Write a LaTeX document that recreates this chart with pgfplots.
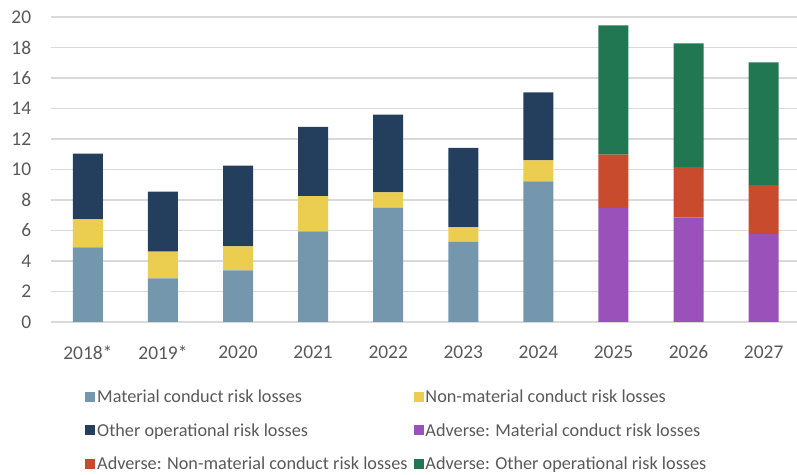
\documentclass[border=0pt]{standalone}
\usepackage{pgfplots}
\pgfplotsset{compat=1.18}
\usepackage{fontspec}
\setmainfont{Carlito}
\definecolor{cMat}{HTML}{7597AE}
\definecolor{cNon}{HTML}{EBCD50}
\definecolor{cOth}{HTML}{243F5E}
\definecolor{aMat}{HTML}{9B51BA}
\definecolor{aNon}{HTML}{C84B2E}
\definecolor{aOth}{HTML}{217752}
\definecolor{gridgray}{HTML}{D9D9D9}
\definecolor{labelgray}{HTML}{595959}
\begin{document}
\begin{tikzpicture}[x=1bp,y=1bp]
\useasboundingbox (-50.7,-153) rectangle (746.3,322);
\begin{axis}[
  at={(0,0)}, anchor=south west,
  scale only axis, width=746bp, height=305bp,
  xmin=-0.495, xmax=9.44, ymin=0, ymax=20,
  ytick={0,2,...,20},
  xtick={0,...,9},
  xticklabels={2018*,2019*,2020,2021,2022,2023,2024,2025,2026,2027},
  ymajorgrids,
  grid style={draw=gridgray, line width=1.5bp},
  axis line style={draw=none},
  major tick length=0pt,
  /pgf/number format/assume math mode=true,
  ticklabel style={font=\fontsize{19.5}{22}\selectfont, text=labelgray},
  yticklabel style={anchor=east, xshift=-16bp},
  xticklabel style={anchor=north, yshift=-20bp},
  ybar stacked, bar width=30bp,
  every axis plot/.append style={draw=none},
  area legend,
  legend image code/.code={\fill[#1] (0bp,-5bp) rectangle (10bp,5bp);},
  legend columns=2,
  legend cell align=left,
  legend style={at={(0.046,-0.215)}, anchor=north west, draw=none, fill=none,
    inner sep=0pt, font=\fontsize{18.3}{20}\selectfont, text=labelgray,
    row sep=15.5bp,
    /tikz/every even column/.append style={column sep=4bp}},
]
\addplot+[fill=cMat] coordinates {(0,4.9) (1,2.86) (2,3.39) (3,5.95) (4,7.48) (5,5.27) (6,9.22) (7,0) (8,0) (9,0)};
\addplot+[fill=cNon] coordinates {(0,1.83) (1,1.75) (2,1.57) (3,2.31) (4,1.02) (5,0.94) (6,1.38) (7,0) (8,0) (9,0)};
\addplot+[fill=cOth] coordinates {(0,4.31) (1,3.94) (2,5.29) (3,4.53) (4,5.1) (5,5.2) (6,4.46) (7,0) (8,0) (9,0)};
\addplot+[fill=aMat] coordinates {(0,0) (1,0) (2,0) (3,0) (4,0) (5,0) (6,0) (7,7.48) (8,6.86) (9,5.77)};
\addplot+[fill=aNon] coordinates {(0,0) (1,0) (2,0) (3,0) (4,0) (5,0) (6,0) (7,3.49) (8,3.3) (9,3.21)};
\addplot+[fill=aOth] coordinates {(0,0) (1,0) (2,0) (3,0) (4,0) (5,0) (6,0) (7,8.48) (8,8.11) (9,8.05)};
\legend{Material conduct risk losses, Non-material conduct risk losses, Other operational risk losses, Adverse: Material conduct risk losses, Adverse: Non-material conduct risk losses, Adverse: Other operational risk losses}
\end{axis}
\end{tikzpicture}
\end{document}
